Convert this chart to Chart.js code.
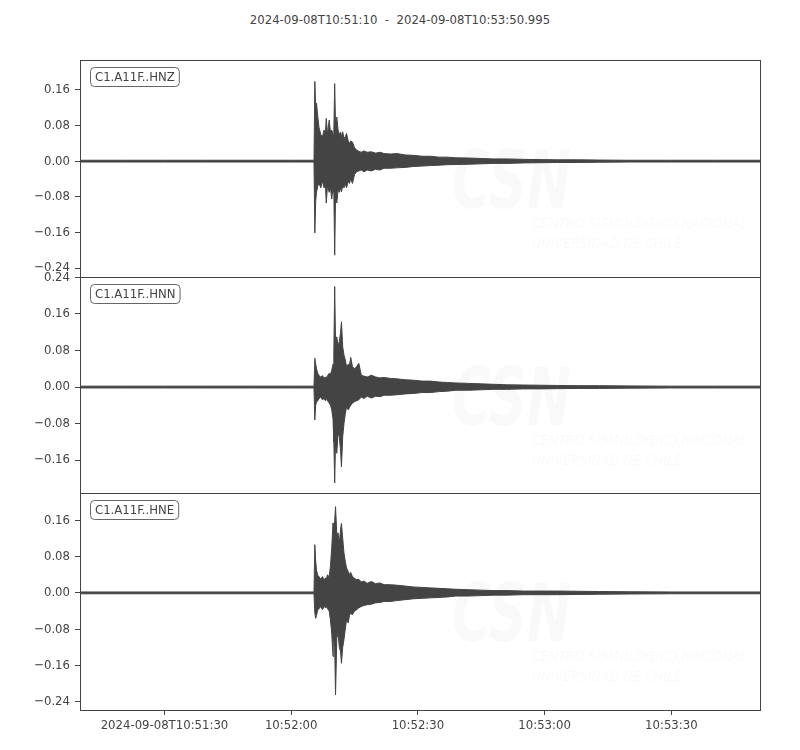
<!DOCTYPE html>
<html>
<head>
<meta charset="utf-8">
<script src="https://cdn.jsdelivr.net/npm/chart.js@4/dist/chart.umd.min.js"></script>
<style>
body { margin: 0; background: #fff; }
#wrap { position: relative; width: 800px; height: 750px; }
#wrap canvas { position: absolute; left: 0; }
#title { position: absolute; top: 12px; left: 0; width: 800px; text-align: center;
  font: 13px "DejaVu Sans Condensed", "DejaVu Sans", sans-serif; color: #444; }
</style>
</head>
<body>
<div id="wrap">
  <div id="title">2024-09-08T10:51:10&nbsp;&nbsp;-&nbsp;&nbsp;2024-09-08T10:53:50.995</div>
  <canvas id="c1" width="800" height="250" style="top:40px"></canvas>
  <canvas id="c2" width="800" height="250" style="top:260px"></canvas>
  <canvas id="c3" width="800" height="270" style="top:480px"></canvas>
</div>
<script>
// seconds after 10:51:10
var tSec = [0, 10, 20, 30, 40, 50, 55.4, 55.6, 55.8, 56.0,
  56.3, 56.6, 57.0, 57.4, 57.8, 58.1, 58.3, 58.6, 59.0, 59.3,
  59.6, 59.9, 60.1, 60.3, 60.5, 60.8, 61.1, 61.4, 61.7, 61.9,
  62.2, 62.5, 62.8, 63.1, 63.5, 63.8, 64.1, 64.5, 65.0, 65.5,
  66.0, 66.6, 67.2, 68.0, 69, 70, 71, 72, 73.5, 75,
  77, 79, 81, 83, 85, 87, 89, 92, 95, 98,
  101, 105, 109, 113, 118, 123, 130, 140, 150, 160.995];

// upper / lower envelope of each trace
var hnzUp = [0.002, 0.002, 0.002, 0.002, 0.002, 0.002, 0.002, 0.179, 0.12, 0.13,
  0.10, 0.075, 0.06, 0.055, 0.07, 0.06, 0.096, 0.06, 0.092, 0.065,
  0.07, 0.06, 0.07, 0.174, 0.08, 0.099, 0.07, 0.06, 0.065, 0.055,
  0.066, 0.05, 0.055, 0.062, 0.045, 0.04, 0.045, 0.043, 0.03, 0.025,
  0.022, 0.02, 0.023, 0.02, 0.021, 0.018, 0.02, 0.017, 0.016, 0.017,
  0.014, 0.013, 0.011, 0.011, 0.009, 0.009, 0.0075, 0.007, 0.006, 0.005,
  0.005, 0.004, 0.0035, 0.003, 0.003, 0.0025, 0.002, 0.002, 0.002, 0.002];
var hnzLo = [-0.002, -0.002, -0.002, -0.002, -0.002, -0.002, -0.002, -0.161, -0.09, -0.07,
  -0.055, -0.05, -0.06, -0.045, -0.06, -0.05, -0.094, -0.055, -0.07, -0.06,
  -0.085, -0.06, -0.07, -0.211, -0.08, -0.094, -0.065, -0.07, -0.06, -0.069,
  -0.055, -0.06, -0.05, -0.06, -0.045, -0.05, -0.04, -0.05, -0.03, -0.024,
  -0.022, -0.02, -0.024, -0.02, -0.022, -0.018, -0.02, -0.016, -0.016, -0.015,
  -0.014, -0.012, -0.011, -0.01, -0.009, -0.008, -0.0075, -0.007, -0.006, -0.005,
  -0.005, -0.004, -0.0035, -0.003, -0.003, -0.0025, -0.002, -0.002, -0.002, -0.002];

var hnnUp = [0.002, 0.002, 0.002, 0.002, 0.002, 0.002, 0.002, 0.063, 0.05, 0.04,
  0.03, 0.025, 0.022, 0.025, 0.02, 0.022, 0.02, 0.025, 0.03, 0.028,
  0.037, 0.05, 0.08, 0.22, 0.1, 0.11, 0.09, 0.1, 0.12, 0.143,
  0.088, 0.07, 0.06, 0.045, 0.05, 0.048, 0.065, 0.045, 0.04, 0.045,
  0.052, 0.026, 0.024, 0.022, 0.026, 0.022, 0.02, 0.021, 0.019, 0.018,
  0.016, 0.015, 0.013, 0.013, 0.011, 0.01, 0.009, 0.008, 0.007, 0.006,
  0.005, 0.0045, 0.004, 0.0035, 0.003, 0.003, 0.0025, 0.002, 0.002, 0.002];
var hnnLo = [-0.002, -0.002, -0.002, -0.002, -0.002, -0.002, -0.002, -0.072, -0.04, -0.033,
  -0.03, -0.025, -0.022, -0.028, -0.025, -0.03, -0.025, -0.03, -0.035, -0.04,
  -0.05, -0.07, -0.12, -0.21, -0.12, -0.145, -0.1, -0.11, -0.14, -0.175,
  -0.109, -0.08, -0.06, -0.043, -0.05, -0.045, -0.04, -0.035, -0.032, -0.03,
  -0.028, -0.022, -0.025, -0.02, -0.024, -0.02, -0.021, -0.018, -0.018, -0.017,
  -0.015, -0.014, -0.012, -0.012, -0.01, -0.009, -0.007, -0.007, -0.006, -0.005,
  -0.005, -0.004, -0.004, -0.0035, -0.003, -0.003, -0.0025, -0.002, -0.002, -0.002];

var hneUp = [0.002, 0.002, 0.002, 0.002, 0.002, 0.002, 0.002, 0.106, 0.07, 0.05,
  0.038, 0.036, 0.03, 0.036, 0.028, 0.033, 0.03, 0.04, 0.035, 0.06,
  0.1, 0.154, 0.13, 0.16, 0.19, 0.13, 0.132, 0.11, 0.14, 0.153,
  0.12, 0.088, 0.07, 0.055, 0.047, 0.04, 0.045, 0.036, 0.032, 0.029,
  0.03, 0.024, 0.026, 0.021, 0.025, 0.02, 0.022, 0.018, 0.018, 0.017,
  0.015, 0.013, 0.012, 0.011, 0.01, 0.009, 0.008, 0.007, 0.006, 0.005,
  0.005, 0.004, 0.004, 0.004, 0.0035, 0.003, 0.0025, 0.002, 0.002, 0.002];
var hneLo = [-0.002, -0.002, -0.002, -0.002, -0.002, -0.002, -0.002, -0.045, -0.056, -0.05,
  -0.037, -0.035, -0.03, -0.037, -0.03, -0.033, -0.03, -0.035, -0.04, -0.06,
  -0.09, -0.14, -0.1, -0.12, -0.225, -0.1, -0.088, -0.12, -0.13, -0.155,
  -0.12, -0.103, -0.08, -0.06, -0.066, -0.05, -0.045, -0.048, -0.04, -0.037,
  -0.033, -0.03, -0.028, -0.026, -0.025, -0.022, -0.021, -0.019, -0.019, -0.017,
  -0.015, -0.013, -0.012, -0.011, -0.01, -0.009, -0.007, -0.007, -0.006, -0.005,
  -0.005, -0.004, -0.004, -0.004, -0.0035, -0.003, -0.0025, -0.002, -0.002, -0.002];

var channels = ["C1.A11F..HNZ", "C1.A11F..HNN", "C1.A11F..HNE"];
var xTickPos = [20, 50, 80, 110, 140];
var xTickLabels = ["2024-09-08T10:51:30", "10:52:00", "10:52:30", "10:53:00", "10:53:30"];
var yTicksZ = [-0.24, -0.16, -0.08, 0, 0.08, 0.16];
var yTicksN = [-0.16, -0.08, 0, 0.08, 0.16, 0.24];
var yTicksE = [-0.24, -0.16, -0.08, 0, 0.08, 0.16];
var yRangeZ = [-0.26, 0.227];
var yRangeN = [-0.232, 0.241];
var yRangeE = [-0.258, 0.22];

var ink = '#444444';
var fontFam = '"DejaVu Sans Condensed", "DejaVu Sans", sans-serif';

function pts(arr) {
  return tSec.map(function (t, i) { return { x: t, y: arr[i] }; });
}

function fmtY(v) {
  var s = Math.abs(v).toFixed(2);
  return v < 0 ? '\u2212' + s : s;
}

// frame, station label and faint watermark
var panelDeco = {
  id: 'panelDeco',
  beforeDatasetsDraw: function (chart) {
    var a = chart.chartArea, c = chart.ctx;
    c.save();
    c.fillStyle = 'rgba(0,0,0,0.025)';
    c.translate(a.left + 372, a.top + 148);
    c.scale(0.66, 1);
    c.font = 'italic bold 80px "DejaVu Sans", sans-serif';
    c.fillText('CSN', 0, 0);
    c.restore();
    c.save();
    c.fillStyle = 'rgba(0,0,0,0.025)';
    c.font = 'italic 14px "DejaVu Sans Condensed", "DejaVu Sans", sans-serif';
    c.fillText('CENTRO SISMOLOGICO NACIONAL', a.left + 452, a.top + 168);
    c.fillText('UNIVERSIDAD DE CHILE', a.left + 452, a.top + 188);
    c.restore();
  },
  afterDatasetsDraw: function (chart, args, opts) {
    var a = chart.chartArea, c = chart.ctx;
    var l = Math.round(a.left) + 0.5, t = Math.round(a.top) + 0.5;
    var r = Math.round(a.right) + 0.5, b = Math.round(a.bottom) + 0.5;
    c.save();
    c.strokeStyle = ink;
    c.lineWidth = 1;
    c.strokeRect(l, t, r - l, b - t);
    c.font = '13px ' + fontFam;
    var w = c.measureText(opts.label).width;
    c.beginPath();
    c.roundRect(l + 10, t + 7, w + 9, 19, 4);
    c.fillStyle = '#fff';
    c.fill();
    c.strokeStyle = '#666';
    c.stroke();
    c.fillStyle = ink;
    c.textBaseline = 'middle';
    c.fillText(opts.label, l + 14.5, t + 17);
    c.restore();
  }
};

function makePanel(id, up, lo, range, yTicks, label, padTop, padBottom, showX) {
  return new Chart(document.getElementById(id), {
    type: 'line',
    data: {
      datasets: [
        { data: pts(up), borderColor: ink, backgroundColor: ink, borderWidth: 1,
          pointRadius: 0, tension: 0, fill: '+1' },
        { data: pts(lo), borderColor: ink, backgroundColor: ink, borderWidth: 1,
          pointRadius: 0, tension: 0, fill: false }
      ]
    },
    options: {
      responsive: false,
      animation: false,
      devicePixelRatio: 1,
      events: [],
      layout: { padding: { top: padTop, bottom: padBottom, left: 0, right: 40 } },
      plugins: {
        legend: { display: false },
        tooltip: { enabled: false },
        panelDeco: { label: label }
      },
      scales: {
        x: {
          type: 'linear', min: 0, max: 160.995, display: showX,
          afterBuildTicks: function (s) { s.ticks = xTickPos.map(function (v) { return { value: v }; }); },
          afterFit: function (s) { s.height = showX ? 40 : 0; },
          grid: { drawOnChartArea: false, tickLength: 5, color: ink },
          border: { display: false },
          ticks: {
            autoSkip: false, maxRotation: 0, padding: 3, color: ink,
            font: { family: fontFam, size: 13 },
            callback: function (v) { var i = xTickPos.indexOf(v); return i >= 0 ? xTickLabels[i] : ''; }
          }
        },
        y: {
          min: range[0], max: range[1],
          afterBuildTicks: function (s) { s.ticks = yTicks.map(function (v) { return { value: v }; }); },
          afterFit: function (s) { s.width = 80; },
          grid: { drawOnChartArea: false, tickLength: 5, color: ink },
          border: { display: false },
          ticks: {
            padding: 5, color: ink,
            font: { family: fontFam, size: 13 },
            callback: function (v) { return fmtY(v); }
          }
        }
      }
    },
    plugins: [panelDeco]
  });
}

makePanel('c1', hnzUp, hnzLo, yRangeZ, yTicksZ, channels[0], 20, 13, false);
makePanel('c2', hnnUp, hnnLo, yRangeN, yTicksN, channels[1], 17, 17, false);
makePanel('c3', hneUp, hneLo, yRangeE, yTicksE, channels[2], 13, 0, true);
</script>
</body>
</html>
